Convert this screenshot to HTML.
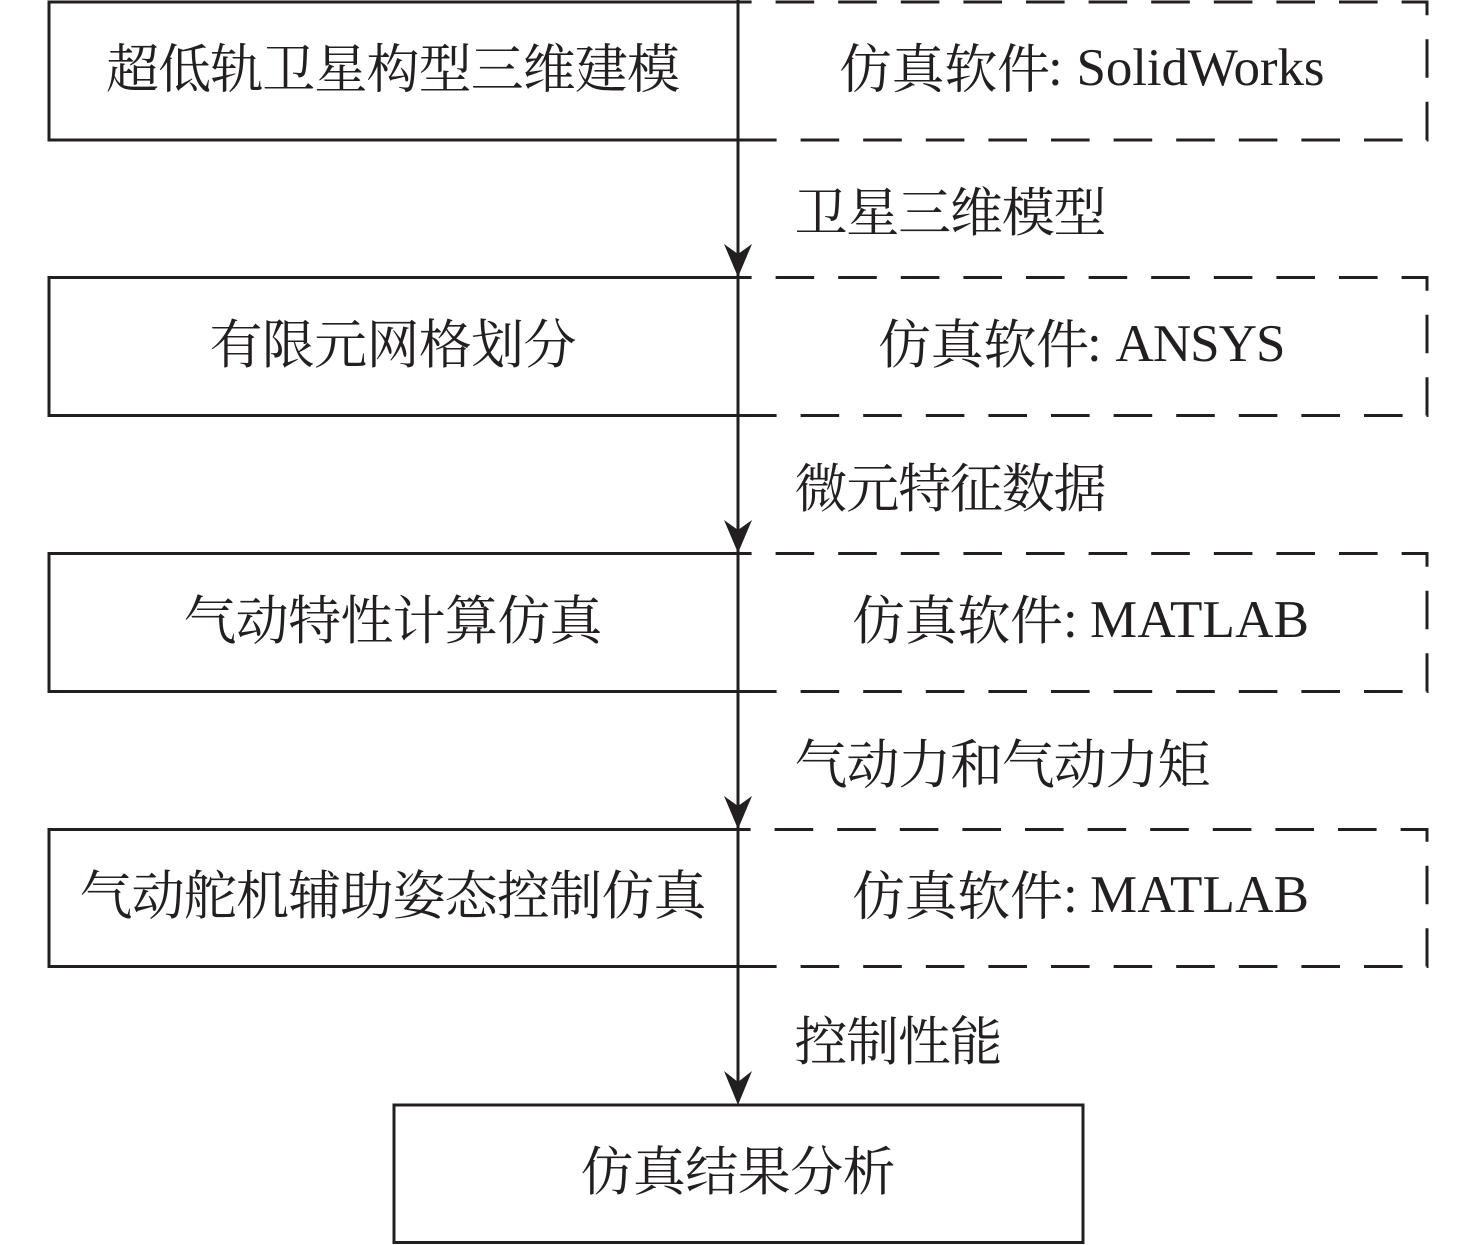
<!DOCTYPE html>
<html>
<head>
<meta charset="utf-8">
<style>
html,body{margin:0;padding:0;background:#fff;width:1476px;height:1245px;overflow:hidden}
svg{display:block}
text{font-family:"Liberation Serif","Noto Serif CJK SC",serif;font-size:53px;fill:#231f20}
</style>
</head>
<body>
<svg width="1476" height="1245" viewBox="0 0 1476 1245" xmlns="http://www.w3.org/2000/svg">
<g fill="none" stroke="#231f20" stroke-width="3" stroke-linejoin="miter">
<rect x="49" y="2" width="689" height="138"/>
<rect x="49" y="277.5" width="689" height="138"/>
<rect x="49" y="553.5" width="689" height="138"/>
<rect x="49" y="829.5" width="689" height="137"/>
<rect x="394" y="1105" width="689" height="137.5"/>
<g stroke-dasharray="38.6 24">
<path d="M738 140H1427V2H738"/>
<path d="M738 415.5H1427V277.5H738"/>
<path d="M738 691.5H1427V553.5H738"/>
<path d="M738 966.5H1427V829.5H738"/>
</g>
<path d="M738 0V1090"/>
</g>
<g fill="#231f20">
<path d="M738 277L724 244L738 254L752 244Z"/>
<path d="M738 553L724 520L738 530L752 520Z"/>
<path d="M738 829L724 796L738 806L752 796Z"/>
<path d="M738 1105L724 1071L738 1082L752 1071Z"/>
</g>
<text x="106" y="87.5" textLength="574">超低轨卫星构型三维建模</text>
<text x="209.5" y="363" textLength="367">有限元网格划分</text>
<text x="183.5" y="639" textLength="419">气动特性计算仿真</text>
<text x="79.5" y="914" textLength="627">气动舵机辅助姿态控制仿真</text>
<text x="580.5" y="1190" textLength="315">仿真结果分析</text>

<text x="839" y="87.5" textLength="211">仿真软件</text>
<text x="1048" y="85">:</text>
<text x="1076.5" y="85" textLength="248">SolidWorks</text>

<text x="878" y="363" textLength="211">仿真软件</text>
<text x="1087" y="361">:</text>
<text x="1115.5" y="361" textLength="170">ANSYS</text>

<text x="852" y="639" textLength="211">仿真软件</text>
<text x="1063" y="637">:</text>
<text x="1090" y="637" textLength="219">MATLAB</text>

<text x="852" y="914.5" textLength="211">仿真软件</text>
<text x="1063" y="912">:</text>
<text x="1090" y="912" textLength="219">MATLAB</text>

<text x="794.5" y="231" textLength="312">卫星三维模型</text>
<text x="794.5" y="507" textLength="312">微元特征数据</text>
<text x="794.5" y="783" textLength="416">气动力和气动力矩</text>
<text x="794.5" y="1060" textLength="208">控制性能</text>
</svg>
</body>
</html>
